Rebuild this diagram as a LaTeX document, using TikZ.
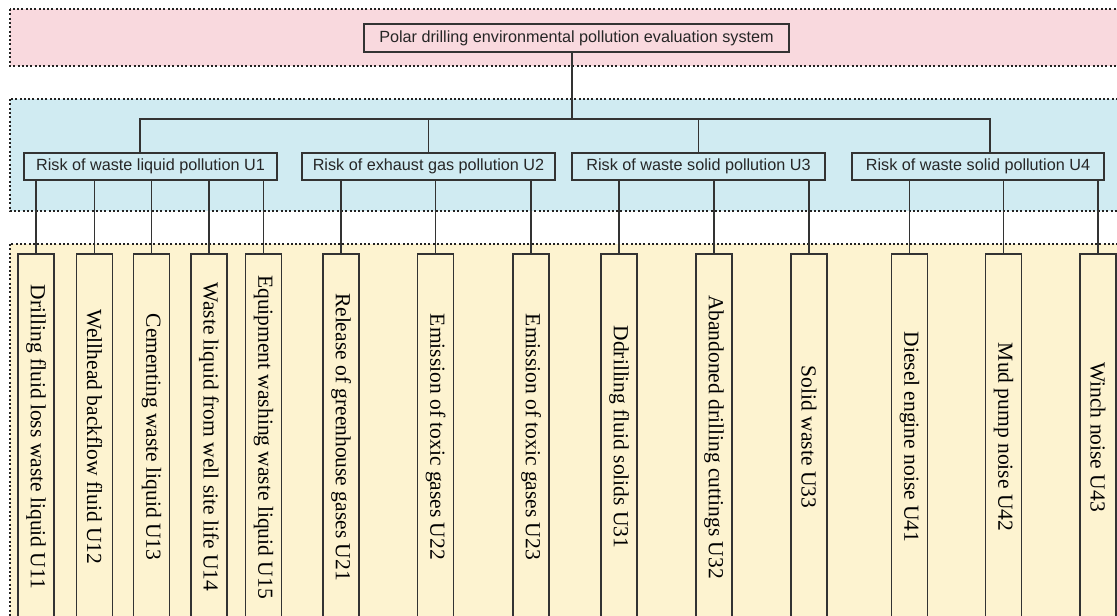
\documentclass[tikz,border=0pt]{standalone}
\usepackage{fontspec}
\setmainfont{Liberation Serif}
\newfontfamily\arialf{Liberation Sans}
\usepackage{graphicx}
\definecolor{pinkbg}{HTML}{F9D9DE}
\definecolor{bluebg}{HTML}{D0EBF2}
\definecolor{yellowbg}{HTML}{FDF3D0}
\definecolor{ink}{HTML}{333333}
\definecolor{dotink}{HTML}{222222}
\tikzset{
  panel/.style={draw=dotink, line width=2.2pt, dash pattern=on 2pt off 2.3pt},
  topbox/.style={draw=ink, line width=1.3pt, fill=pinkbg, minimum width=425pt, minimum height=28pt, inner sep=0pt, font=\arialf\fontsize{16.2}{19}\selectfont, text=black!85},
  catbox/.style={draw=ink, line width=1.3pt, fill=bluebg, minimum width=253pt, minimum height=27pt, inner sep=0pt, font=\arialf\fontsize{16.2}{19}\selectfont, text=black!85},
  leaf/.style={draw=ink, line width=1.3pt, fill=yellowbg, minimum width=36pt, minimum height=366pt, inner sep=0pt, font=\fontsize{21.5}{24}\selectfont, text=black},
  link/.style={draw=ink, line width=1.3pt},
}
\newcommand{\vtext}[1]{\rotatebox{-90}{#1}}
\begin{document}
\begin{tikzpicture}[x=1pt, y=-1pt]
\useasboundingbox (0,0) rectangle (1117,616);
\clip (0,0) rectangle (1117,616);
% panels
\fill[pinkbg] (10,9) rectangle (1140,66);
\draw[panel] (10,9) rectangle (1140,66);
\fill[bluebg] (10,99) rectangle (1140,211);
\draw[panel] (10,99) rectangle (1140,211);
\fill[yellowbg] (10,244) rectangle (1140,640);
\draw[panel] (10,244) rectangle (1140,640);
% nodes
\node[topbox] (top) at (576.5,38) {Polar drilling environmental pollution evaluation system};
\node[catbox] (u1) at (150.5,166.5) {Risk of waste liquid pollution U1};
\node[catbox] (u2) at (428.5,166.5) {Risk of exhaust gas pollution U2};
\node[catbox] (u3) at (698.5,166.5) {Risk of waste solid pollution U3};
\node[catbox, minimum width=252pt] (u4) at (978,166.5) {Risk of waste solid pollution U4};
\node[leaf] (u11) at (36,437) {\vtext{Drilling fluid loss waste liquid U11}};
\node[leaf] (u12) at (94.5,437) {\vtext{Wellhead backflow fluid U12}};
\node[leaf] (u13) at (151.5,437) {\vtext{Cementing waste liquid U13}};
\node[leaf] (u14) at (209,437) {\vtext{Waste liquid from well site life U14}};
\node[leaf] (u15) at (263.5,437) {\vtext{Equipment washing waste liquid U15}};
\node[leaf] (u21) at (341,437) {\vtext{Release of greenhouse gases U21}};
\node[leaf] (u22) at (435.5,437) {\vtext{Emission of toxic gases U22}};
\node[leaf] (u23) at (531,437) {\vtext{Emission of toxic gases U23}};
\node[leaf] (u31) at (619,437) {\vtext{Ddrilling fluid solids U31}};
\node[leaf] (u32) at (714,437) {\vtext{Abandoned drilling cuttings U32}};
\node[leaf] (u33) at (809,437) {\vtext{Solid waste U33}};
\node[leaf] (u41) at (909.5,437) {\vtext{Diesel engine noise U41}};
\node[leaf] (u42) at (1003.5,437) {\vtext{Mud pump noise U42}};
\node[leaf] (u43) at (1098,437) {\vtext{Winch noise U43}};
% bus coordinates
\coordinate (b0) at (572,119);
\coordinate (b1) at (140,119);
\coordinate (b4) at (990,119);
% connectors
\draw[link] (top.south -| b0) -- (b0);
\draw[link] (b1 |- u1.north) -- (b1) -- (b4) -- (b4 |- u4.north);
\draw[link] (u2.north) -- (u2.north |- b0);
\draw[link] (u3.north) -- (u3.north |- b0);
\foreach \p/\c in {u1/u11,u1/u12,u1/u13,u1/u14,u1/u15,u2/u21,u2/u22,u2/u23,u3/u31,u3/u32,u3/u33,u4/u41,u4/u42,u4/u43}{
  \draw[link] (\c.north) -- (\c.north |- \p.south);
}
\end{tikzpicture}
\end{document}
